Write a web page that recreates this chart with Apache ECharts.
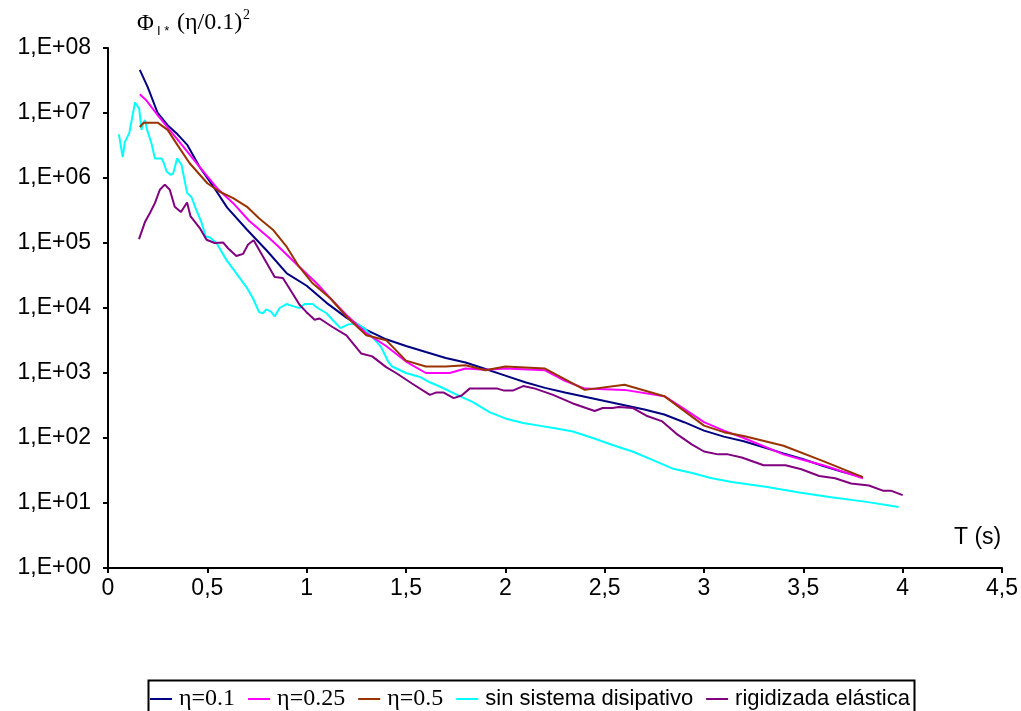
<!DOCTYPE html>
<html>
<head>
<meta charset="utf-8">
<script src="https://cdn.jsdelivr.net/npm/echarts@6/dist/echarts.min.js"></script>
<style>html,body{margin:0;padding:0;background:#fff;}#c{width:1021px;height:711px;}</style>
</head>
<body>
<div id="c"></div>
<script>
const seriesNames = ['η=0.1', 'η=0.25', 'η=0.5', 'sin sistema disipativo', 'rigidizada elástica'];
const seriesColors = ['#000080', '#FF00FF', '#993300', '#00FFFF', '#800080'];
const xTickLabels = ['0', '0,5', '1', '1,5', '2', '2,5', '3', '3,5', '4', '4,5'];
const yTickLabels = ['1,E+00', '1,E+01', '1,E+02', '1,E+03', '1,E+04', '1,E+05', '1,E+06', '1,E+07', '1,E+08'];

const eta01 = [
  [0.16, 4.6e7], [0.20, 2.5e7], [0.25, 1.0e7], [0.30, 6.5e6], [0.35, 4.7e6], [0.40, 3.2e6],
  [0.46, 1.5e6], [0.53, 7.4e5], [0.60, 3.5e5], [0.70, 1.6e5], [0.80, 7.6e4], [0.90, 3.4e4],
  [1.00, 2.2e4], [1.10, 1.2e4], [1.20, 7.1e3], [1.30, 4.6e3], [1.40, 3.3e3], [1.50, 2.6e3],
  [1.60, 2.1e3], [1.70, 1.7e3], [1.80, 1.45e3], [1.90, 1.15e3], [2.00, 910], [2.10, 720],
  [2.20, 590], [2.30, 500], [2.40, 430], [2.50, 370], [2.60, 320], [2.70, 275], [2.80, 230],
  [2.90, 175], [3.00, 130], [3.10, 105], [3.20, 89], [3.30, 72], [3.40, 58], [3.50, 47],
  [3.60, 37], [3.70, 30], [3.80, 25]
];
const eta025 = [
  [0.16, 1.95e7], [0.19, 1.6e7], [0.25, 9.3e6], [0.30, 6.0e6], [0.38, 3.0e6], [0.46, 1.5e6],
  [0.55, 6.9e5], [0.63, 4.1e5], [0.71, 2.2e5], [0.81, 1.2e5], [0.86, 8.7e4], [0.96, 4.4e4],
  [1.05, 2.4e4], [1.12, 1.4e4], [1.20, 7.8e3], [1.30, 4.1e3], [1.40, 2.6e3], [1.50, 1.5e3],
  [1.60, 1.0e3], [1.72, 1.0e3], [1.80, 1.17e3], [1.90, 1.12e3], [2.00, 1.17e3], [2.20, 1.1e3],
  [2.30, 760], [2.40, 575], [2.60, 550], [2.80, 440], [2.90, 280], [3.00, 175], [3.10, 130],
  [3.20, 100], [3.40, 56], [3.50, 46], [3.60, 38], [3.80, 24]
];
const eta05 = [
  [0.16, 6.1e6], [0.18, 7.1e6], [0.25, 7.1e6], [0.30, 5.5e6], [0.35, 3.2e6], [0.41, 1.7e6],
  [0.50, 8.3e5], [0.56, 6.2e5], [0.63, 4.9e5], [0.70, 3.6e5], [0.76, 2.4e5], [0.83, 1.6e5],
  [0.90, 8.7e4], [0.96, 4.4e4], [1.03, 2.4e4], [1.12, 1.4e4], [1.20, 7.4e3], [1.30, 3.8e3],
  [1.40, 3.2e3], [1.50, 1.55e3], [1.60, 1.26e3], [1.70, 1.26e3], [1.80, 1.32e3], [1.90, 1.1e3],
  [2.00, 1.26e3], [2.20, 1.17e3], [2.40, 550], [2.60, 660], [2.80, 440], [3.00, 155],
  [3.10, 123], [3.20, 107], [3.40, 76], [3.60, 44], [3.80, 25]
];
const sinSistema = [
  [0.055, 4.7e6], [0.074, 2.1e6], [0.085, 3.6e6], [0.107, 4.9e6], [0.136, 1.45e7], [0.157, 1.17e7],
  [0.169, 5.5e6], [0.174, 6.6e6], [0.186, 7.8e6], [0.197, 5.5e6], [0.219, 3.4e6], [0.236, 2.0e6],
  [0.27, 2.0e6], [0.281, 1.7e6], [0.295, 1.26e6], [0.315, 1.12e6], [0.328, 1.17e6], [0.348, 2.0e6],
  [0.37, 1.6e6], [0.398, 5.9e5], [0.42, 5.1e5], [0.445, 3.2e5], [0.47, 2.1e5], [0.492, 1.26e5],
  [0.512, 1.23e5], [0.546, 1.0e5], [0.596, 5.5e4], [0.646, 3.4e4], [0.697, 2.1e4], [0.73, 1.4e4],
  [0.76, 8.7e3], [0.78, 8.3e3], [0.797, 9.5e3], [0.822, 8.7e3], [0.839, 7.4e3], [0.864, 1.0e4],
  [0.898, 1.15e4], [0.931, 1.07e4], [0.964, 1.0e4], [0.99, 1.15e4], [1.03, 1.15e4], [1.056, 1.0e4],
  [1.10, 8.3e3], [1.13, 6.6e3], [1.17, 4.9e3], [1.21, 5.6e3], [1.25, 5.8e3], [1.29, 4.9e3],
  [1.33, 3.6e3], [1.375, 2.5e3], [1.41, 1.5e3], [1.43, 1.26e3], [1.50, 1.0e3], [1.57, 870],
  [1.62, 720], [1.67, 620], [1.77, 440], [1.835, 360], [1.92, 250], [2.00, 200], [2.09, 170],
  [2.17, 155], [2.25, 141], [2.34, 126], [2.44, 100], [2.54, 78], [2.64, 62], [2.74, 46],
  [2.84, 34], [2.94, 29], [3.04, 24], [3.14, 21], [3.31, 17.8], [3.48, 14.5], [3.64, 12.3],
  [3.81, 10.5], [3.98, 8.7]
];
const rigidizada = [
  [0.156, 1.15e5], [0.186, 2.1e5], [0.211, 2.9e5], [0.236, 4.1e5], [0.261, 6.6e5], [0.286, 7.9e5],
  [0.311, 6.6e5], [0.336, 3.6e5], [0.367, 3.0e5], [0.398, 4.2e5], [0.415, 2.6e5], [0.462, 1.7e5],
  [0.496, 1.12e5], [0.537, 1.0e5], [0.579, 1.02e5], [0.604, 8.3e4], [0.646, 6.3e4], [0.68, 6.8e4],
  [0.705, 9.5e4], [0.733, 1.1e5], [0.78, 6.2e4], [0.839, 3.0e4], [0.88, 2.9e4], [0.93, 1.66e4],
  [0.964, 1.12e4], [0.998, 8.7e3], [1.04, 6.6e3], [1.065, 6.9e3], [1.13, 5.1e3], [1.20, 3.8e3],
  [1.274, 2.0e3], [1.33, 1.8e3], [1.40, 1.23e3], [1.45, 1.0e3], [1.53, 690], [1.62, 460],
  [1.65, 500], [1.69, 500], [1.74, 410], [1.78, 450], [1.82, 575], [1.96, 575], [1.99, 540],
  [2.04, 540], [2.09, 630], [2.15, 575], [2.24, 460], [2.34, 340], [2.45, 260], [2.49, 290],
  [2.54, 290], [2.57, 300], [2.64, 290], [2.71, 220], [2.79, 180], [2.86, 117], [2.94, 79],
  [3.00, 62], [3.07, 56], [3.12, 56], [3.19, 50], [3.30, 38], [3.41, 38], [3.49, 33], [3.58, 26],
  [3.66, 24], [3.74, 20], [3.83, 18.6], [3.90, 15.5], [3.94, 15.5], [4.00, 13.2]
];
const seriesData = [eta01, eta025, eta05, sinSistema, rigidizada];

const sans = '"Liberation Sans", Arial, sans-serif';
const serif = '"Liberation Serif", "Times New Roman", serif';
const legendFonts = [serif, serif, serif, sans, sans];
const legendSizes = [24, 24, 24, 22, 22];

const chart = echarts.init(document.getElementById('c'), null, {renderer: 'canvas'});

chart.setOption({
  animation: false,
  backgroundColor: '#ffffff',
  grid: {left: 108, right: 17, top: 48, bottom: 143, containLabel: false},
  xAxis: {
    type: 'value', min: 0, max: 4.5, interval: 0.5,
    axisLine: {show: true, onZero: false, lineStyle: {color: '#000', width: 2}},
    axisTick: {show: true, inside: false, length: 5, lineStyle: {color: '#000', width: 2}},
    splitLine: {show: false},
    axisLabel: {
      color: '#000', fontFamily: sans, fontSize: 23, margin: 9,
      formatter: function (v) { return xTickLabels[Math.round(v / 0.5)]; }
    }
  },
  yAxis: {
    type: 'log', logBase: 10, min: 1, max: 1e8,
    axisLine: {show: true, lineStyle: {color: '#000', width: 2}},
    axisTick: {show: true, inside: false, length: 5, lineStyle: {color: '#000', width: 2}},
    splitLine: {show: false},
    minorTick: {show: false},
    axisLabel: {
      color: '#000', fontFamily: sans, fontSize: 23, margin: 17,
      formatter: function (v) { return yTickLabels[Math.round(Math.log10(v))]; }
    }
  },
  legend: {
    left: 150, top: 687, itemGap: 13, itemWidth: 22, itemHeight: 2, icon: 'rect',
    padding: 0,
    data: seriesNames.map(function (n, i) {
      return {name: n, textStyle: {fontFamily: legendFonts[i], fontSize: legendSizes[i], color: '#000', padding: [0, 0, 0, 2]}};
    })
  },
  graphic: [
    {type: 'rect', shape: {x: 148.5, y: 680.5, width: 766, height: 40}, style: {fill: 'none', stroke: '#000', lineWidth: 2}, z: 10},
    {type: 'text', left: 954, top: 526, style: {text: 'T (s)', fontFamily: sans, fontSize: 23, fill: '#000'}},
    {type: 'text', left: 137, top: 12, style: {text: 'Φ', fontFamily: serif, fontSize: 23, fill: '#000'}},
    {type: 'text', left: 157, top: 25, style: {text: 'I *', fontFamily: sans, fontSize: 13, fill: '#000'}},
    {type: 'text', left: 177, top: 11, style: {text: '(η/0.1)', fontFamily: serif, fontSize: 24, fill: '#000'}},
    {type: 'text', left: 243, top: 8, style: {text: '2', fontFamily: serif, fontSize: 14, fill: '#000'}}
  ],
  series: seriesData.map(function (d, i) {
    return {
      name: seriesNames[i], type: 'line', data: d, showSymbol: false, symbol: 'none',
      lineStyle: {color: seriesColors[i], width: 2}, itemStyle: {color: seriesColors[i]},
      smooth: false, z: 2 + (i === 3 ? 0 : i)
    };
  })
});
</script>
</body>
</html>
